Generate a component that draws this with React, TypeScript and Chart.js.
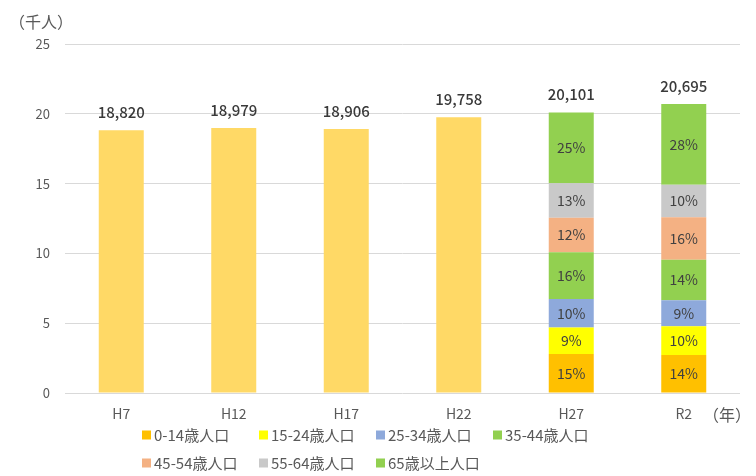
import React, { useEffect, useRef } from "react";
import { Chart, registerables } from "chart.js";

Chart.register(...registerables);

const categories = ["H7", "H12", "H17", "H22", "H27", "R2"];
const totalLabels = ["18,820", "18,979", "18,906", "19,758", "20,101", "20,695"];
const totalValues = [18.82, 18.979, 18.906, 19.758, null, null];

const ageGroups = ["0-14歳人口", "15-24歳人口", "25-34歳人口", "35-44歳人口", "45-54歳人口", "55-64歳人口", "65歳以上人口"];
const ageColors = ["#FFC000", "#FFFF00", "#8EA9DB", "#92D050", "#F4B183", "#C9C9C9", "#92D050"];
const h27Values = [2.79, 1.91, 2.03, 3.35, 2.48, 2.46, 5.081];
const r2Values = [2.72, 2.06, 1.87, 2.89, 3.05, 2.33, 5.775];
const h27Pct = ["15%", "9%", "10%", "16%", "12%", "13%", "25%"];
const r2Pct = ["14%", "10%", "9%", "14%", "16%", "10%", "28%"];

const yTicks = [0, 5, 10, 15, 20, 25];

const FONT = '"Noto Sans CJK JP", "Noto Sans", sans-serif';

export default function App() {
  const ref = useRef<HTMLCanvasElement | null>(null);

  useEffect(() => {
    if (!ref.current) return;
    const datasets: any[] = [
      {
        label: "総人口",
        data: totalValues,
        backgroundColor: "#FFD966",
        stack: "s",
      },
      ...ageGroups.map((g, i) => ({
        label: g,
        data: [null, null, null, null, h27Values[i], r2Values[i]],
        backgroundColor: ageColors[i],
        stack: "s",
      })),
    ];

    const labelPlugin = {
      id: "labels",
      afterDatasetsDraw(chart: any) {
        const ctx = chart.ctx;
        const y = chart.scales.y;
        const x = chart.scales.x;
        ctx.save();
        // totals
        ctx.font = `500 15px ${FONT}`;
        ctx.fillStyle = "#3A3A3A";
        ctx.textAlign = "center";
        ctx.textBaseline = "middle";
        categories.forEach((c, i) => {
          let sum = 0;
          datasets.forEach((d) => {
            const v = d.data[i];
            if (v != null) sum += v;
          });
          const px = x.getPixelForValue(i);
          const py = y.getPixelForValue(sum);
          ctx.fillText(totalLabels[i], px, py - 18);
        });
        // percents
        ctx.font = `14px ${FONT}`;
        ctx.fillStyle = "#404040";
        const pcts = [null, null, null, null, h27Pct, r2Pct];
        categories.forEach((c, i) => {
          const p = pcts[i];
          if (!p) return;
          let base = 0;
          ageGroups.forEach((g, k) => {
            const v = datasets[k + 1].data[i];
            const mid = base + v / 2;
            base += v;
            ctx.fillText(p[k], x.getPixelForValue(i), y.getPixelForValue(mid));
          });
        });
        // axis units
        ctx.fillStyle = "#595959";
        ctx.font = `16px ${FONT}`;
        ctx.textAlign = "left";
        ctx.fillText("（千人）", 9, 22);
        ctx.fillText("（年）", 703, 415);
        // legend
        const colX = [142, 259, 376, 493];
        const rowY = [435, 463];
        ctx.font = `15px ${FONT}`;
        ageGroups.forEach((g, k) => {
          const cx = colX[k % 4];
          const cy = rowY[Math.floor(k / 4)];
          ctx.fillStyle = ageColors[k];
          ctx.fillRect(cx, cy - 4.5, 9, 9);
          ctx.fillStyle = "#595959";
          ctx.fillText(g, cx + 12, cy);
        });
        ctx.restore();
      },
    };

    const chart = new Chart(ref.current, {
      type: "bar",
      data: { labels: categories, datasets },
      options: {
        animation: false,
        responsive: false,
        devicePixelRatio: 1,
        layout: { padding: { top: 44, right: 16, left: 0, bottom: 0 } },
        datasets: { bar: { barPercentage: 0.4, categoryPercentage: 1 } },
        plugins: { legend: { display: false }, tooltip: { enabled: false }, title: { display: false } },
        scales: {
          x: {
            stacked: true,
            grid: { display: false, drawTicks: false },
            border: { display: false },
            ticks: { color: "#595959", font: { size: 14, family: FONT }, padding: 12 },
            afterFit(scale: any) {
              scale.height = 83;
            },
          },
          y: {
            stacked: true,
            min: 0,
            max: 25,
            afterBuildTicks(scale: any) {
              scale.ticks = yTicks.map((v) => ({ value: v }));
            },
            grid: { color: "#D9D9D9", lineWidth: 1, drawTicks: false },
            border: { display: false },
            ticks: { color: "#595959", font: { size: 13, family: FONT }, padding: 15 },
            afterFit(scale: any) {
              scale.width = 65;
            },
          },
        },
      },
      plugins: [labelPlugin],
    });
    return () => chart.destroy();
  }, []);

  return (
    <div style={{ position: "absolute", left: 0, top: 0, width: 756, height: 476, background: "#fff" }}>
      <canvas ref={ref} width={756} height={476} style={{ display: "block" }} />
    </div>
  );
}
